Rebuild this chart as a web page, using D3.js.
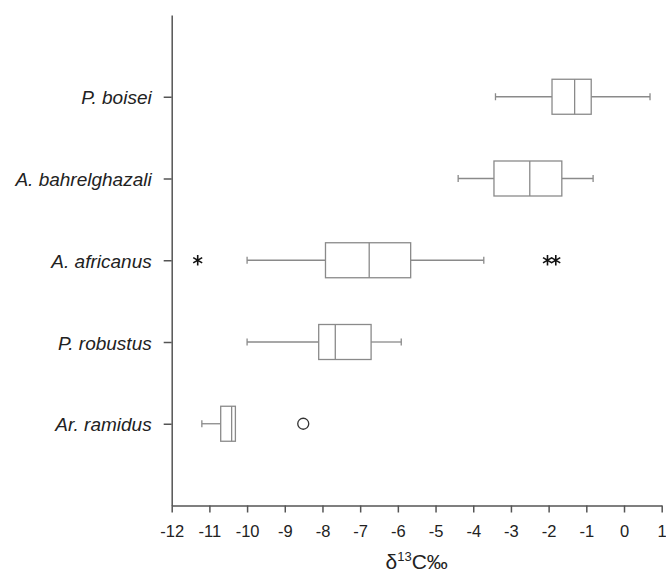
<!DOCTYPE html>
<html>
<head>
<meta charset="utf-8">
<script src="https://cdn.jsdelivr.net/npm/d3@7"></script>
<style>
  body { margin: 0; background: #fff; }
  svg { display: block; font-family: "Liberation Sans", Arial, sans-serif; }
</style>
</head>
<body>
<div id="chart"></div>
<script>
const WIDTH = 666
const HEIGHT = 572

// data
const species = ['P. boisei', 'A. bahrelghazali', 'A. africanus', 'P. robustus', 'Ar. ramidus']
const whiskerLow = [-3.41, -4.40, -10.0, -10.0, -11.20]
const q1 = [-1.91, -3.45, -7.92, -8.10, -10.70]
const median = [-1.31, -2.50, -6.76, -7.66, -10.41]
const q3 = [-0.87, -1.65, -5.66, -6.71, -10.31]
const whiskerHigh = [0.69, -0.82, -3.72, -5.91, -10.31]
const extremes = [
    { species: 'A. africanus', value: -11.31 },
    { species: 'A. africanus', value: -2.03 },
    { species: 'A. africanus', value: -1.81 }
]
const outliers = [
    { species: 'Ar. ramidus', value: -8.51 }
]
const xTicks = d3.range(-12, 2)

const rows = species.map((s, i) => ({
    species: s, lo: whiskerLow[i], q1: q1[i], med: median[i], q3: q3[i], hi: whiskerHigh[i]
}))

const svg = d3.select('#chart')
    .append('svg')
    .attr('width', WIDTH)
    .attr('height', HEIGHT)

const M_LEFT = 171.7, M_RIGHT = 661.7, M_TOP = 15, M_BOTTOM = 505.5

const xScale = d3.scaleLinear().domain([-12, 1]).range([M_LEFT, M_RIGHT])
const yScale = d3.scalePoint().domain(species).range([M_TOP, M_BOTTOM]).padding(1)

const boxH = 35
const capH = 7
const boxColor = '#8a8a8a'

// x axis
const xAxis = svg.append('g')
    .attr('transform', `translate(0, ${M_BOTTOM})`)
    .call(d3.axisBottom(xScale)
        .tickValues(xTicks)
        .tickFormat(d => String(d))
        .tickSizeInner(7).tickSizeOuter(0).tickPadding(13))
xAxis.select('.domain').attr('stroke', '#555').attr('stroke-width', 1.5)
xAxis.selectAll('.tick line').attr('stroke', '#555').attr('stroke-width', 1.5)
xAxis.selectAll('.tick text')
    .attr('fill', '#222')
    .style('font-size', '16.5px')

// y axis
const yAxis = svg.append('g')
    .attr('transform', `translate(${M_LEFT}, 0)`)
    .call(d3.axisLeft(yScale).tickSizeInner(8).tickSizeOuter(0).tickPadding(12))
yAxis.select('.domain').attr('stroke', '#555').attr('stroke-width', 1.5)
yAxis.selectAll('.tick line').attr('stroke', '#555').attr('stroke-width', 1.5)
yAxis.selectAll('.tick text')
    .attr('fill', '#222')
    .attr('dy', '0.38em')
    .style('font-size', '19px')
    .style('font-style', 'italic')

// axis title
const title = svg.append('text')
    .attr('x', (M_LEFT + M_RIGHT) / 2)
    .attr('y', 569)
    .attr('text-anchor', 'middle')
    .attr('fill', '#222')
    .style('font-size', '21px')
title.append('tspan').text('δ')
title.append('tspan').attr('dy', -8).style('font-size', '13px').text('13')
title.append('tspan').attr('dy', 8).text('C‰')

// boxes
const g = svg.selectAll('.box')
    .data(rows)
    .join('g')
    .attr('class', 'box')
    .attr('transform', d => `translate(0, ${yScale(d.species)})`)
    .attr('stroke', boxColor)
    .attr('stroke-width', 1.3)
    .attr('fill', 'none')

g.append('line')
    .attr('x1', d => xScale(d.lo)).attr('x2', d => xScale(d.q1))
g.append('line')
    .attr('x1', d => xScale(d.q3)).attr('x2', d => xScale(d.hi))
g.append('line')
    .attr('x1', d => xScale(d.lo)).attr('x2', d => xScale(d.lo))
    .attr('y1', -capH / 2).attr('y2', capH / 2)
g.filter(d => d.hi > d.q3)
    .append('line')
    .attr('x1', d => xScale(d.hi)).attr('x2', d => xScale(d.hi))
    .attr('y1', -capH / 2).attr('y2', capH / 2)
g.append('rect')
    .attr('x', d => xScale(d.q1))
    .attr('y', -boxH / 2)
    .attr('width', d => xScale(d.q3) - xScale(d.q1))
    .attr('height', boxH)
    .attr('fill', '#fff')
g.append('line')
    .attr('x1', d => xScale(d.med)).attr('x2', d => xScale(d.med))
    .attr('y1', -boxH / 2).attr('y2', boxH / 2)

// extreme values (asterisks)
svg.selectAll('.extreme')
    .data(extremes)
    .join('path')
    .attr('class', 'extreme')
    .attr('transform', d => `translate(${xScale(d.value)}, ${yScale(d.species)})`)
    .attr('d', d3.symbol(d3.symbolAsterisk, 75))
    .attr('stroke', '#111')
    .attr('stroke-width', 1.6)
    .attr('fill', 'none')

// outliers (circles)
svg.selectAll('.outlier')
    .data(outliers)
    .join('circle')
    .attr('class', 'outlier')
    .attr('cx', d => xScale(d.value))
    .attr('cy', d => yScale(d.species))
    .attr('r', 5.5)
    .attr('stroke', '#333')
    .attr('stroke-width', 1.3)
    .attr('fill', 'none')
</script>
</body>
</html>
